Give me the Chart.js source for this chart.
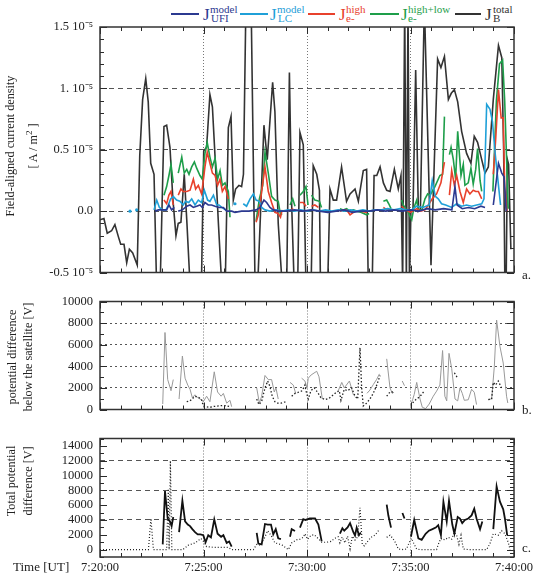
<!DOCTYPE html>
<html>
<head>
<meta charset="utf-8">
<script src="https://cdn.jsdelivr.net/npm/chart.js@4.4.1/dist/chart.umd.min.js"></script>
<style>
  body { margin: 0; background: #fff; }
  #wrap { position: relative; width: 537px; height: 576px; font-family: 'Liberation Serif', 'Times New Roman', Times, serif; color: #222; overflow: hidden; }
  #wrap canvas { position: absolute; left: 0; }
  .txt { position: absolute; white-space: nowrap; line-height: 1; }
  .ytitle { position: absolute; white-space: nowrap; text-align: center; font-size: 12.2px; transform: translate(-50%, -50%) rotate(-90deg); }
  .lg-line { position: absolute; height: 2px; top: 13px; }
  .lg-j { position: absolute; font-size: 17px; top: 6px; line-height: 1; }
  .lg-s { position: absolute; font-size: 11px; line-height: 1; white-space: nowrap; }
</style>
</head>
<body>
<div id="wrap">
  <!-- legend -->
  <div class="lg-line" style="left:171px;width:28px;background:#2b3990"></div>
  <span class="lg-j" style="left:203px;color:#2b3990">J</span>
  <span class="lg-s" style="left:210px;top:4px;color:#2b3990">model</span>
  <span class="lg-s" style="left:211px;top:13px;color:#2b3990">UFI</span>

  <div class="lg-line" style="left:240px;width:28px;background:#1fa0d8"></div>
  <span class="lg-j" style="left:270px;color:#1fa0d8">J</span>
  <span class="lg-s" style="left:277px;top:4px;color:#1fa0d8">model</span>
  <span class="lg-s" style="left:278px;top:13px;color:#1fa0d8">LC</span>

  <div class="lg-line" style="left:308px;width:27px;background:#e8412c"></div>
  <span class="lg-j" style="left:339px;color:#e8412c">J</span>
  <span class="lg-s" style="left:346px;top:4px;color:#e8412c">high</span>
  <span class="lg-s" style="left:346px;top:13px;color:#e8412c">e-</span>

  <div class="lg-line" style="left:370px;width:29px;background:#1e9e4a"></div>
  <span class="lg-j" style="left:401px;color:#1e9e4a">J</span>
  <span class="lg-s" style="left:408px;top:4px;color:#1e9e4a">high+low</span>
  <span class="lg-s" style="left:408px;top:13px;color:#1e9e4a">e-</span>

  <div class="lg-line" style="left:455px;width:26px;background:#333"></div>
  <span class="lg-j" style="left:485px;color:#333">J</span>
  <span class="lg-s" style="left:493px;top:4px;color:#333">total</span>
  <span class="lg-s" style="left:493px;top:13px;color:#333">B</span>

  <canvas id="c1" width="537" height="287" style="top:0"></canvas>
  <canvas id="c2" width="537" height="137" style="top:287px"></canvas>
  <canvas id="c3" width="537" height="152" style="top:424px"></canvas>

  <div class="ytitle" style="left:22px;top:146px;line-height:19px">Field-aligned current density<br>[ A / m<sup style="font-size:9px">2</sup> ]</div>
  <div class="ytitle" style="left:20px;top:357px;line-height:16px">potential difference<br>below the satellite [V]</div>
  <div class="ytitle" style="left:20px;top:481px;line-height:17px">Total potential<br>difference [V]</div>

  <span class="txt" style="left:13px;top:560px;font-size:13px">Time [UT]</span>
  <span class="txt" style="left:522px;top:268px;font-size:13px">a.</span>
  <span class="txt" style="left:522px;top:403px;font-size:13px">b.</span>
  <span class="txt" style="left:522px;top:541px;font-size:13px">c.</span>
</div>

<script>
// ========================= DADOS =========================
// tempo em minutos depois de 7:20:00 UT
const timeTicks = [0, 5, 10, 15, 20];
const timeLabels = ['7:20:00', '7:25:00', '7:30:00', '7:35:00', '7:40:00'];

// painel a: densidade de corrente (unidade 1e-5 A/m2)
const jTicks = [-0.5, 0, 0.5, 1, 1.5];
const jTickLabels = ['-0.5 10\u207B\u2075', '0.0', '0.5 10\u207B\u2075', '1. 10\u207B\u2075', '1.5 10\u207B\u2075'];

const jUFI = [[2.66,0.0],[2.82,0.01],[3.06,0.01],[3.22,0.01],[3.33,0.05],[3.46,0.01],[3.59,0.03],[3.7,null],[3.78,0.0],[3.98,0.01],[4.19,0.04],[4.35,0.05],[4.51,0.03],[4.67,0.04],[4.83,0.05],[4.94,0.03],[5.07,0.07],[5.23,0.05],[5.39,0.05],[5.56,0.04],[5.75,0.03],[5.96,0.03],[6.12,0.0],[6.36,0.0],[6.52,-0.01],[6.84,0.0],[7.2,0.0],[7.55,0.01],[7.73,0.03],[7.92,0.09],[8.05,0.07],[8.21,0.03],[8.37,0.01],[8.6,0.0],[9.0,0.0],[9.4,0.01],[9.8,0.0],[10.2,0.01],[10.6,0.0],[11.0,-0.01],[11.4,0.0],[11.8,0.01],[12.2,-0.01],[12.6,0.0],[13.0,0.0],[13.4,0.01],[13.8,0.0],[14.2,0.01],[14.6,0.0],[15.0,0.01],[15.4,0.0],[15.8,0.02],[16.2,0.01],[16.6,0.02],[17.0,0.01],[17.15,0.2],[17.25,0.05],[17.5,0.02],[17.8,0.03],[18.1,0.02],[18.4,0.04],[18.6,0.03],[18.8,null],[19.0,0.05],[19.25,0.39],[19.41,0.31],[19.52,0.28],[19.62,0.0]];

const jLC = [[1.45,0.0],[1.5,null],[1.77,0.01],[1.8,null],[2.61,0.01],[2.74,0.09],[2.87,0.03],[3.03,0.01],[3.19,0.01],[3.3,0.05],[3.41,0.1],[3.54,0.12],[3.7,0.09],[3.86,0.08],[4.02,0.05],[4.13,0.08],[4.29,0.07],[4.43,0.1],[4.59,0.05],[4.75,0.09],[4.91,0.07],[5.04,0.17],[5.2,0.09],[5.31,0.08],[5.48,0.13],[5.64,0.05],[5.75,0.05],[5.88,0.03],[6.07,0.01],[6.2,null],[6.52,0.06],[6.6,null],[6.92,0.06],[7.08,0.04],[7.25,0.1],[7.41,0.14],[7.54,0.09],[7.7,0.08],[7.81,0.03],[7.97,0.01],[8.21,0.0],[8.5,0.01],[8.8,0.0],[9.1,0.01],[9.4,0.0],[9.7,0.01],[10.0,0.0],[10.3,0.01],[10.6,0.0],[10.9,0.01],[11.2,0.0],[11.5,0.01],[11.8,0.0],[12.1,0.01],[12.4,0.0],[12.7,0.01],[13.0,0.0],[13.3,0.01],[13.6,0.01],[13.9,0.02],[14.2,0.01],[14.5,0.02],[14.8,0.01],[15.06,0.01],[15.3,0.04],[15.6,0.03],[15.9,0.05],[16.05,0.25],[16.2,0.12],[16.34,0.1],[16.5,0.06],[16.7,0.05],[16.99,0.03],[17.23,0.06],[17.47,0.04],[17.71,0.05],[17.95,0.04],[18.2,0.05],[18.44,0.06],[18.55,0.1],[18.68,0.87],[18.84,0.83],[18.96,0.73],[19.09,0.47],[19.25,0.21],[19.35,0.05]];

const jEhigh = [[3.09,0.09],[3.22,0.06],[3.33,0.13],[3.43,0.16],[3.54,0.05],[3.65,null],[3.78,0.13],[3.91,0.18],[4.02,0.16],[4.19,0.16],[4.35,0.17],[4.51,0.26],[4.62,0.18],[4.75,0.21],[4.91,0.14],[5.07,0.36],[5.18,0.48],[5.31,0.39],[5.43,0.31],[5.56,0.29],[5.68,0.21],[5.8,0.26],[5.91,0.16],[6.04,0.2],[6.2,0.1],[6.3,null],[7.54,-0.09],[7.65,-0.03],[7.81,0.16],[7.97,0.36],[8.13,0.16],[8.29,0.07],[8.45,-0.01],[8.61,-0.02],[8.72,-0.05],[8.8,0.01],[8.9,null],[9.18,0.01],[9.34,0.02],[9.45,null],[9.66,0.07],[9.82,0.07],[9.95,0.04],[10.05,null],[10.22,0.04],[10.38,0.05],[10.55,0.03],[10.7,null],[11.59,0.0],[11.91,0.01],[12.08,-0.03],[12.32,0.0],[12.6,0.0],[12.9,-0.01],[13.1,null],[13.69,0.03],[13.85,0.01],[14.01,0.01],[14.2,null],[14.57,0.04],[14.75,0.01],[15.0,-0.01],[15.3,0.02],[15.5,0.0],[15.7,0.01],[15.86,0.05],[16.05,0.1],[16.26,0.14],[16.47,0.23],[16.64,0.4],[16.75,null],[16.88,0.13],[16.99,0.33],[17.12,0.21],[17.23,0.29],[17.39,0.16],[17.55,0.07],[17.71,0.18],[17.87,0.14],[18.03,0.17],[18.15,0.16],[18.28,0.16],[18.44,0.1],[18.6,null],[19.0,0.3],[19.12,0.6],[19.25,0.99],[19.38,0.76],[19.48,0.76],[19.55,0.2],[19.65,0.0]];

const jEhighLow = [[3.09,0.13],[3.22,0.2],[3.33,0.29],[3.43,0.38],[3.54,0.23],[3.65,null],[3.78,0.31],[3.95,0.44],[4.07,0.31],[4.19,0.34],[4.3,0.3],[4.43,0.36],[4.56,0.4],[4.67,0.35],[4.83,0.29],[4.94,0.26],[5.07,0.47],[5.18,0.56],[5.31,0.44],[5.43,0.36],[5.56,0.43],[5.68,0.26],[5.8,0.33],[5.91,0.21],[6.04,0.23],[6.2,0.16],[6.28,-0.05],[6.4,null],[7.54,-0.08],[7.7,0.1],[7.86,0.21],[7.97,0.48],[8.13,0.31],[8.29,0.12],[8.45,0.09],[8.61,0.08],[8.72,-0.03],[8.8,-0.02],[8.9,null],[9.18,0.05],[9.31,0.1],[9.42,0.04],[9.5,null],[9.66,0.13],[9.82,0.16],[9.95,0.2],[10.05,0.05],[10.1,null],[10.22,0.13],[10.38,0.09],[10.6,0.08],[10.7,0.03],[10.8,null],[11.59,0.02],[11.75,0.01],[11.91,0.02],[12.08,0.0],[12.24,0.01],[12.4,0.0],[12.6,-0.01],[12.88,-0.03],[13.0,-0.02],[13.1,null],[13.69,0.08],[13.85,0.09],[13.95,0.06],[14.06,0.02],[14.2,null],[14.57,0.09],[14.65,0.05],[14.89,-0.01],[15.06,-0.07],[15.17,0.03],[15.3,0.09],[15.38,0.01],[15.55,0.01],[15.7,0.1],[15.83,0.14],[15.94,0.13],[16.05,0.16],[16.18,0.2],[16.42,0.29],[16.55,0.3],[16.64,0.77],[16.75,null],[16.88,0.46],[16.96,0.52],[17.07,0.42],[17.18,0.26],[17.28,0.65],[17.44,0.29],[17.55,0.38],[17.63,0.21],[17.79,0.23],[17.92,0.35],[18.03,0.22],[18.15,0.34],[18.24,0.51],[18.36,0.25],[18.44,0.16],[18.6,null],[18.98,0.16],[19.15,0.9],[19.3,1.2],[19.45,1.23],[19.55,0.9],[19.72,0.02]];

const jBtotal = [[0,-0.07],[0.19,-0.06],[0.35,-0.18],[0.56,-0.16],[0.72,-0.11],[0.89,-0.21],[1.0,-0.27],[1.16,-0.27],[1.29,-0.42],[1.42,-0.31],[1.58,-0.34],[1.8,-0.44],[1.92,0.45],[2.06,0.91],[2.21,1.08],[2.33,0.89],[2.45,0.39],[2.61,0.3],[2.74,-0.65],[2.9,-0.65],[3.09,0.69],[3.22,0.7],[3.38,0.52],[3.52,0.1],[3.67,-0.2],[3.78,-0.1],[3.91,-0.09],[4.07,0.3],[4.2,-0.1],[4.35,-0.6],[4.9,-0.6],[5.01,0.49],[5.15,0.52],[5.31,0.95],[5.43,0.85],[5.59,0.34],[5.72,-0.1],[5.88,-0.6],[6.05,-0.6],[6.2,0.68],[6.33,0.77],[6.44,0.09],[6.55,0.18],[6.71,0.21],[6.84,0.2],[6.93,0.3],[7.05,1.7],[7.3,1.7],[7.49,-0.6],[7.62,-0.6],[7.92,0.7],[8.08,0.42],[8.34,1.05],[8.45,0.81],[8.61,-0.1],[8.8,-0.6],[9.02,-0.6],[9.15,1.13],[9.26,0.05],[9.38,-0.6],[9.55,-0.6],[9.66,0.64],[9.82,0.54],[9.95,-0.6],[10.2,-0.6],[10.3,0.37],[10.47,0.3],[10.6,0.17],[10.65,-0.6],[11.0,-0.6],[11.11,0.18],[11.27,0.09],[11.43,0.09],[11.67,0.36],[11.91,0.08],[12.08,0.14],[12.32,0.18],[12.48,0.08],[12.72,0.33],[12.88,0.34],[12.96,-0.6],[13.15,-0.6],[13.24,0.29],[13.37,0.29],[13.53,0.36],[13.69,0.23],[13.85,0.17],[14.01,0.16],[14.22,0.34],[14.41,0.18],[14.54,0.29],[14.62,-0.6],[14.72,1.7],[14.8,-0.6],[14.88,1.7],[14.95,-0.6],[15.02,0.0],[15.12,0.0],[15.25,1.15],[15.38,0.0],[15.48,0.02],[15.67,1.7],[15.99,-0.44],[16.31,1.24],[16.47,1.17],[16.64,1.26],[16.83,0.91],[16.97,0.96],[17.12,0.99],[17.28,0.89],[17.47,0.65],[17.71,0.47],[17.92,0.39],[18.08,0.61],[18.24,0.56],[18.44,0.42],[18.6,0.31],[18.76,0.36],[19.0,0.91],[19.25,1.35],[19.41,1.25],[19.5,0.5],[19.56,-0.6],[19.62,-0.6],[19.68,0.42],[19.74,0.38],[19.85,-0.31]];

// painel b: diferença de potencial abaixo do satélite [V]
const potTicks = [0, 2000, 4000, 6000, 8000, 10000];
const potSolid = [[3.03,510],[3.14,7130],[3.27,2770],[3.43,1740],[3.54,2770],[3.65,null],[3.82,970],[3.98,4950],[4.11,2900],[4.24,2260],[4.35,1870],[4.46,1100],[4.59,1360],[4.72,1100],[4.88,920],[4.99,720],[5.15,1230],[5.31,720],[5.52,3490],[5.68,1620],[5.85,1230],[5.96,1490],[6.12,590],[6.28,850],[6.36,260],[6.5,null],[7.57,2000],[7.7,590],[7.81,1230],[7.97,3150],[8.13,2770],[8.29,2770],[8.42,1620],[8.5,2000],[8.61,970],[8.8,null],[9.18,2510],[9.34,2260],[9.45,1500],[9.6,null],[9.74,2900],[9.9,2640],[10.0,2000],[10.06,2900],[10.2,3200],[10.47,3540],[10.58,3030],[10.74,970],[10.9,null],[11.51,1740],[11.68,2510],[11.8,2000],[12.05,2640],[12.24,1360],[12.32,1230],[12.5,null],[12.9,1500],[13.04,1800],[13.2,2300],[13.37,2800],[13.5,3300],[13.7,null],[13.85,4690],[14.01,2000],[14.12,1490],[14.2,1600],[14.4,null],[14.6,2640],[14.71,2200],[14.85,null],[15.02,460],[15.1,900],[15.18,1400],[15.3,2510],[15.46,970],[15.57,205],[15.73,80],[15.9,500],[16.1,1230],[16.26,1700],[16.42,2260],[16.55,5460],[16.66,1230],[16.75,800],[16.86,5200],[16.99,3800],[17.15,970],[17.28,800],[17.39,2000],[17.5,1500],[17.6,850],[17.79,900],[17.95,1870],[18.08,1600],[18.19,460],[18.4,null],[18.76,950],[18.92,970],[19.05,4000],[19.16,8280],[19.32,5850],[19.48,4300],[19.64,1230],[19.7,600]];
const potDotted = [[4.19,720],[4.35,800],[4.59,1230],[4.78,1100],[4.9,950],[4.99,330],[5.15,250],[5.31,200],[5.5,280],[5.75,330],[5.96,380],[6.12,330],[6.28,260],[6.4,null],[7.57,970],[7.68,460],[7.81,760],[7.97,2000],[8.1,2640],[8.21,2130],[8.32,1230],[8.45,720],[8.58,590],[8.75,590],[8.97,720],[9.1,null],[9.26,1230],[9.42,1490],[9.61,1620],[9.77,1740],[9.9,2260],[9.95,1740],[10.06,970],[10.19,1740],[10.35,2000],[10.5,1620],[10.67,1100],[10.87,920],[11.06,1030],[11.27,1360],[11.43,1620],[11.56,1740],[11.64,850],[11.8,1870],[11.96,1740],[12.16,2000],[12.32,1230],[12.45,970],[12.56,5720],[12.64,2000],[12.72,330],[12.88,590],[13.04,970],[13.2,1490],[13.37,2260],[13.53,3150],[13.7,null],[13.85,1230],[14.01,1620],[14.15,1620],[14.3,null],[15.02,330],[15.1,600],[15.25,900],[15.47,1230],[15.63,1620],[15.8,null],[17.12,3400],[17.28,2900],[17.4,null],[18.76,920],[18.92,950],[19.0,2510],[19.11,2260],[19.24,2640],[19.4,2000]];

// painel c: diferença de potencial total [V]
const totTicks = [0, 2000, 4000, 6000, 8000, 10000, 12000, 14000];
const totSolid = [[3.03,700],[3.14,7900],[3.27,4200],[3.38,3800],[3.46,3170],[3.54,4400],[3.65,null],[3.82,2350],[3.98,6600],[4.11,3800],[4.24,3380],[4.35,3170],[4.46,2760],[4.59,2350],[4.72,2060],[4.85,2060],[4.99,1940],[5.1,990],[5.23,1940],[5.36,1650],[5.52,4080],[5.68,2140],[5.85,1730],[5.96,1940],[6.12,910],[6.24,1100],[6.36,410],[6.5,null],[7.57,2270],[7.65,820],[7.81,700],[7.97,3460],[8.1,3380],[8.26,3380],[8.37,2060],[8.49,2760],[8.61,1520],[8.74,1400],[8.9,null],[9.18,1730],[9.26,2760],[9.42,2500],[9.55,null],[9.66,2970],[9.82,4120],[9.93,4000],[10.14,4200],[10.39,4200],[10.55,3380],[10.71,1110],[10.9,null],[11.59,2140],[11.71,2880],[11.8,2550],[11.96,3000],[12.08,3580],[12.24,2350],[12.32,1900],[12.4,2970],[12.51,1940],[12.6,2300],[12.8,null],[13.85,6060],[13.93,4600],[14.06,2970],[14.2,null],[14.61,4940],[14.71,4200],[14.85,null],[15.02,1730],[15.18,4000],[15.38,1520],[15.54,1320],[15.73,2140],[15.89,2550],[16.06,2760],[16.22,2970],[16.34,3300],[16.47,1940],[16.59,6470],[16.75,3790],[16.86,6590],[17.02,3380],[17.12,2140],[17.28,4410],[17.39,4200],[17.5,3580],[17.63,4000],[17.79,4200],[17.95,4610],[18.08,5520],[18.19,4200],[18.36,2760],[18.47,3790],[18.6,null],[19.0,2760],[19.16,8530],[19.32,6470],[19.48,5440],[19.56,4200],[19.67,1940]];
const totDotted = [[0,0],[0.5,0],[1.0,0],[1.5,0],[2.0,0],[2.34,0],[2.46,4200],[2.58,0],[2.8,0],[3.06,0],[3.22,0],[3.3,8200],[3.34,0],[3.4,12000],[3.47,0],[3.7,0],[4.0,0],[4.27,600],[4.59,900],[4.88,1500],[5.0,1100],[5.15,400],[5.5,300],[5.8,300],[6.2,300],[6.36,0],[6.8,0],[7.2,0],[7.41,0],[7.57,700],[7.75,600],[7.94,1520],[8.1,2550],[8.26,1940],[8.45,900],[8.6,800],[8.8,600],[9.1,0],[9.26,900],[9.5,1320],[9.66,1400],[9.82,1650],[9.9,2140],[10.03,1400],[10.19,1940],[10.35,2000],[10.5,1600],[10.71,990],[10.95,990],[11.15,1100],[11.35,1520],[11.51,1730],[11.59,910],[11.7,1700],[11.83,910],[11.96,1810],[12.08,80],[12.19,1810],[12.32,1300],[12.45,1730],[12.56,5640],[12.67,700],[12.77,500],[12.93,1110],[13.09,1650],[13.28,1940],[13.48,2640],[13.65,null],[13.85,1650],[14.01,1940],[14.15,1500],[14.28,900],[14.41,80],[14.65,0],[14.81,80],[14.93,900],[15.05,1520],[15.18,700],[15.3,80],[15.46,0],[15.7,0],[15.89,0],[16.1,0],[16.26,0],[16.34,700],[16.47,1520],[16.66,1320],[16.83,1650],[16.99,1400],[17.12,2350],[17.23,1900],[17.34,700],[17.44,1940],[17.55,80],[17.8,0],[18.11,0],[18.4,0],[18.68,0],[18.84,820],[19.0,2140],[19.24,1940],[19.4,2550],[19.56,2140],[19.73,910],[19.81,0]];

// ========================= CONFIG =========================
const SERIF = "'Liberation Serif', 'Times New Roman', Times, serif";
Chart.defaults.font.family = SERIF;
Chart.defaults.color = '#222';

// moldura com marcas de escala para dentro (estilo IDL)
const frameTicks = {
    id: 'frameTicks',
    afterDatasetsDraw(chart, args, o) {
        const {ctx, chartArea: a} = chart;
        const x = chart.scales.x, y = chart.scales.y;
        ctx.save();
        ctx.strokeStyle = '#2a2a2a';
        ctx.lineWidth = 1;
        ctx.beginPath();
        for (let m = 0; m <= 20; m++) {
            const px = Math.round(x.getPixelForValue(m)) + 0.5;
            const len = m % 5 === 0 ? 7 : 4;
            ctx.moveTo(px, a.top); ctx.lineTo(px, a.top + len);
            ctx.moveTo(px, a.bottom); ctx.lineTo(px, a.bottom - len);
        }
        const drawY = (step, side) => {
            const n = Math.round((o.yTo - o.yFrom) / step);
            for (let k = 0; k <= n; k++) {
                const v = o.yFrom + k * step;
                const py = Math.round(y.getPixelForValue(v)) + 0.5;
                const r = v / o.yMajor;
                const len = Math.abs(r - Math.round(r)) < 1e-6 ? 7 : 4;
                if (side === 'l') { ctx.moveTo(a.left, py); ctx.lineTo(a.left + len, py); }
                else { ctx.moveTo(a.right, py); ctx.lineTo(a.right - len, py); }
            }
        };
        drawY(o.yMinor, 'l');
        drawY(o.yMinorR || o.yMinor, 'r');
        ctx.stroke();
        ctx.lineWidth = 1.5;
        ctx.strokeStyle = '#333';
        ctx.strokeRect(a.left, a.top, a.right - a.left, a.bottom - a.top);
        ctx.restore();
    }
};

function isolatedRadius(c) {
    const d = c.dataset.data, i = c.dataIndex;
    if (d[i].y === null) return 0;
    const prev = i > 0 ? d[i - 1].y : null;
    const next = i < d.length - 1 ? d[i + 1].y : null;
    return (prev === null && next === null) ? 1.6 : 0;
}

function serie(arr, color, width, dash) {
    return {
        data: arr.map(p => ({x: p[0], y: p[1]})),
        borderColor: color,
        backgroundColor: color,
        borderWidth: width,
        borderDash: dash || [],
        pointRadius: isolatedRadius,
        pointBorderWidth: 0,
        tension: 0,
        spanGaps: false,
        fill: false
    };
}

function painel(id, datasets, cfg) {
    return new Chart(document.getElementById(id), {
        type: 'line',
        data: { datasets: datasets },
        plugins: [frameTicks],
        options: {
            responsive: false,
            animation: false,
            events: [],
            layout: { padding: cfg.padding },
            plugins: {
                legend: { display: false },
                tooltip: { enabled: false },
                frameTicks: cfg.frame
            },
            scales: {
                x: {
                    type: 'linear',
                    min: 0,
                    max: 20,
                    afterBuildTicks: s => { s.ticks = timeTicks.map(v => ({value: v})); },
                    afterFit: s => { s.height = cfg.xHeight; },
                    grid: {
                        color: c => (c.tick && c.tick.value > 0 && c.tick.value < 20) ? '#777' : 'rgba(0,0,0,0)',
                        lineWidth: 1,
                        drawTicks: false
                    },
                    border: { display: false, dash: [1, 2] },
                    ticks: {
                        display: cfg.xLabels,
                        padding: 3,
                        maxRotation: 0,
                        autoSkip: false,
                        color: '#222',
                        font: { size: 12.5 },
                        callback: (v, i) => timeLabels[i]
                    }
                },
                y: {
                    position: 'left',
                    min: cfg.yMin,
                    max: cfg.yMax,
                    afterBuildTicks: s => { s.ticks = cfg.yTicks.map(v => ({value: v})); },
                    afterFit: s => { s.width = 100; },
                    grid: {
                        color: c => (c.tick && cfg.gridAt.includes(c.tick.value)) ? '#555' : 'rgba(0,0,0,0)',
                        lineWidth: 1,
                        drawTicks: false
                    },
                    border: { display: false, dash: cfg.gridDash },
                    ticks: {
                        padding: 7,
                        autoSkip: false,
                        color: '#222',
                        font: { size: 12.5 },
                        callback: cfg.yLabel
                    }
                }
            }
        }
    });
}

// ========================= PAINÉIS =========================
painel('c1', [
    serie(jUFI, '#2b3990', 1.6),
    serie(jLC, '#1fa0d8', 1.6),
    serie(jEhigh, '#e8412c', 1.6),
    serie(jEhighLow, '#1e9e4a', 1.6),
    serie(jBtotal, '#333333', 1.6)
], {
    padding: { left: 0, right: 23, top: 27, bottom: 4 },
    xHeight: 0, xLabels: false,
    yMin: -0.5, yMax: 1.5, yTicks: jTicks, gridAt: [0, 0.5, 1], gridDash: [5, 4],
    yLabel: (v, i) => jTickLabels[i],
    frame: { yFrom: -0.5, yTo: 1.5, yMinor: 0.1, yMajor: 0.5 }
});

painel('c2', [
    serie(potDotted, '#222222', 1.3, [1.5, 2]),
    serie(potSolid, '#999999', 1)
], {
    padding: { left: 0, right: 23, top: 3, bottom: 3 },
    xHeight: 0, xLabels: false,
    yMin: 0, yMax: 10000, yTicks: potTicks, gridAt: [2000, 4000, 6000, 8000], gridDash: [2, 3],
    yLabel: v => String(v),
    frame: { yFrom: 0, yTo: 10000, yMinor: 1000, yMajor: 2000 }
});

painel('c3', [
    serie(totSolid, '#111111', 1.8),
    serie(totDotted, '#222222', 1.2, [1, 2])
], {
    padding: { left: 0, right: 23, top: 3, bottom: 0 },
    xHeight: 19, xLabels: true,
    yMin: -1000, yMax: 15000, yTicks: totTicks, gridAt: [4000, 8000, 12000], gridDash: [5, 4],
    yLabel: v => String(v),
    frame: { yFrom: -1000, yTo: 15000, yMinor: 1000, yMinorR: 500, yMajor: 2000 }
});
</script>
</body>
</html>
